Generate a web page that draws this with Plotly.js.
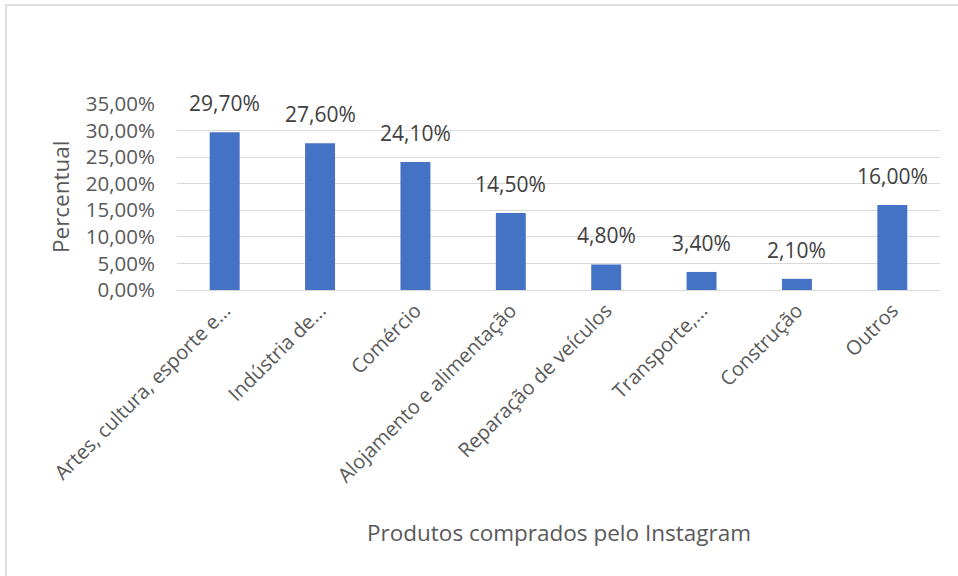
<!DOCTYPE html>
<html>
<head>
<meta charset="utf-8">
<script src="https://cdn.plot.ly/plotly-3.0.1.min.js"></script>
<style>html,body{margin:0;padding:0;background:#fff;}#chart{width:958px;height:576px;}</style>
</head>
<body>
<div id="chart"></div>
<script>
var categories = ["Artes, cultura, esporte e...", "Indústria de...", "Comércio", "Alojamento e alimentação", "Reparação de veículos", "Transporte,...", "Construção", "Outros"];
var values = [29.7, 27.6, 24.1, 14.5, 4.8, 3.4, 2.1, 16.0];
var tickValues = [0, 5, 10, 15, 20, 25, 30, 35];
var tickLabels = ["0,00%", "5,00%", "10,00%", "15,00%", "20,00%", "25,00%", "30,00%", "35,00%"];
var xTitle = "Produtos comprados pelo Instagram";
var yTitle = "Percentual";

var font = "'Open Sans', 'Noto Sans', sans-serif";
var grey = "#595959";

var trace = {
  type: "bar",
  x: categories,
  y: values,
  marker: {color: "#4472C4"},
  width: 0.314,
  hoverinfo: "x+y"
};

var labelAnnotations = categories.map(function (c, i) {
  return {
    x: c, y: values[i], xref: "x", yref: "y",
    text: values[i].toFixed(2).replace(".", ",") + "%",
    showarrow: false, yanchor: "bottom", xanchor: "center",
    yshift: 13,
    font: {family: font, size: 21, color: "#404040"}
  };
});

var titleAnnotations = [
  {xref: "paper", yref: "paper", x: 0.5, y: -1.305, xanchor: "center", yanchor: "middle",
   text: xTitle, showarrow: false, font: {family: font, size: 22.5, color: grey}},
  {xref: "paper", yref: "paper", x: -0.1533, y: 0.5, xanchor: "center", yanchor: "middle",
   textangle: -90, text: yTitle, showarrow: false, font: {family: font, size: 22.5, color: grey}}
];

var layout = {
  width: 958, height: 576,
  separators: ",.",
  paper_bgcolor: "#fff", plot_bgcolor: "#fff",
  margin: {l: 177, r: 18, t: 104, b: 286},
  showlegend: false,
  font: {family: font, color: grey, size: 20},
  xaxis: {
    type: "category",
    tickangle: -45,
    tickfont: {family: font, size: 20, color: grey},
    showgrid: false,
    showline: true, linecolor: "#d9d9d9", linewidth: 1,
    ticks: "",
    automargin: false
  },
  yaxis: {
    range: [0, 35],
    tickvals: tickValues,
    ticktext: tickLabels,
    tickfont: {family: font, size: 20.5, color: grey},
    showgrid: true, gridcolor: "#d9d9d9", gridwidth: 1,
    zeroline: false,
    showline: false,
    ticks: "",
    ticklabelstandoff: 21,
    automargin: false
  },
  annotations: labelAnnotations.concat(titleAnnotations),
  shapes: [
    {type: "line", xref: "paper", yref: "paper", x0: -0.2254, x1: 1.03, y0: 1.532, y1: 1.532, line: {color: "#d4d4d4", width: 1.5}},
    {type: "line", xref: "paper", yref: "paper", x0: -0.2241, x1: -0.2241, y0: 1.532, y1: -1.6, line: {color: "#d4d4d4", width: 1.5}}
  ]
};

Plotly.newPlot("chart", [trace], layout, {displayModeBar: false, staticPlot: true});
</script>
</body>
</html>
